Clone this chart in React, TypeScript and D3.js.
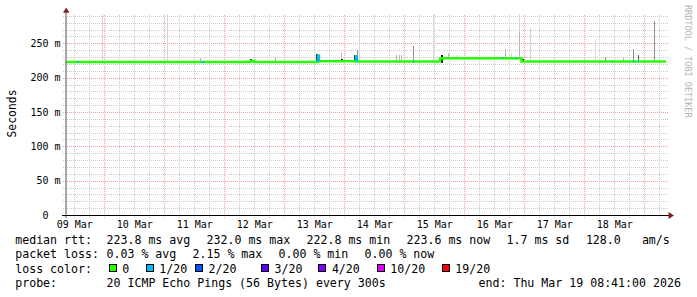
import React from "react";
import * as d3 from "d3";

// ---- time frame ----
const START = Date.UTC(2026, 2, 9, 8, 41, 0);
const SPAN_HOURS = 240;

// ---- median rtt (ms), step data: hour offset from start, value, lost pings of 20 ----
const medianHour = [0, 4.5, 5.1, 54.2, 55.3, 73.9, 75.2, 100.8, 101.2, 116.0, 116.4, 138.8, 139.3, 149.7, 174.3, 174.9, 179.9, 180.5, 182.2, 218.3, 218.7, 226.7, 227.3, 228.8, 229.2];
const medianMs = [222.8, 222.8, 222.8, 222.8, 222.8, 224.4, 222.8, 232.0, 224.0, 231.0, 223.5, 223.5, 223.5, 228.3, 228.3, 228.3, 228.3, 228.3, 223.6, 223.6, 223.6, 223.6, 223.6, 223.6, 223.6];
const medianLoss = [0, 1, 0, 1, 0, 0, 0, 1, 0, 1, 0, 1, 0, 0, 1, 0, 1, 0, 0, 1, 0, 1, 0, 1, 0];

// ---- smoke (ping spread above median): hour, top value (ms), shade level ----
const smokeHour = [14.2, 40.2, 53.6, 73.7, 83.6, 99.9, 110.0, 110.0, 115.2, 116.5, 117.0, 132.2, 133.1, 134.0, 138.9, 146.7, 149.8, 152.9, 156.4, 175.6, 177.8, 181.0, 181.3, 182.2, 185.6, 211.7, 215.7, 222.8, 226.9, 228.9, 235.3];
const smokeTop = [295, 295, 228.6, 226.5, 230.1, 234.5, 236.6, 226.5, 233.0, 240.7, 295, 232.3, 232.3, 232.3, 246.1, 295, 232.5, 236.6, 233.0, 241.3, 236.3, 295, 267.2, 227.0, 272.0, 254.8, 230.5, 228.6, 242.0, 233.0, 283.0];
const smokeShade = [0, 0, 1, 4, 1, 4, 1, 4, 4, 2, 0, 1, 1, 1, 2, 0, 4, 1, 1, 1, 0, 0, 1, 4, 0, 0, 2, 1, 2, 3, 2];

// ---- legend data ----
const rttStatValues = [223.8, 232.0, 222.8, 223.6];
const rttStatNames = ["avg", "max", "min", "now"];
const rttSd = 1.7;
const amPerSecond = 128.0;
const lossStatValues = [0.03, 2.15, 0.0, 0.0];
const lossStatNames = ["avg", "max", "min", "now"];
const lossLevels = [0, 1, 2, 3, 4, 10, 19];
const lossLabels = ["0", "1/20", "2/20", "3/20", "4/20", "10/20", "19/20"];
const lossColors = ["#26ff00", "#00b8ff", "#0059ff", "#5e00ff", "#7e00ff", "#dd00ff", "#ff0000"];
const probeText = "20 ICMP Echo Pings (56 Bytes) every 300s";
const endText = "end: Thu Mar 19 08:41:00 2026";

const yTicks = [0, 50, 100, 150, 200, 250];

// ---- style / layout ----
const FONT = "'DejaVu Sans Mono', monospace";
const smokeColors = ["#d6d6d6", "#b8b8b8", "#909090", "#606060", "#202020"];
const MINOR_GRID = "#cccccc";
const MAJOR_GRID = "#f0a0a0";
const ARROW = "#7f1f1f";
const row1X = [16, 107.3, 207.3, 307.3, 407.3, 507.3, 586.7, 642.7];
const row2X = [16, 107.3, 193.3, 279.3, 365.3];
const boxX = [108.7, 145.7, 195, 261, 318.3, 376.7, 441.7];
const row4X = [16, 107.3, 479.3];
const rowY = [244, 258.3, 272.6, 287];

function lossColor(l: number) {
  const i = lossLevels.indexOf(l);
  return lossColors[i >= 0 ? i : 0];
}

export default function App() {
  const t0 = new Date(START);
  const t1 = new Date(START + SPAN_HOURS * 3600e3);
  const x = d3.scaleUtc().domain([t0, t1]).range([66, 666]);
  const y = d3.scaleLinear().domain([0, 291.2]).range([215, 15]);
  const hx = (h: number) => x(new Date(START + h * 3600e3));
  const crisp = (v: number) => Math.round(v) + 0.5;

  const medianAt = (h: number) => {
    const i = d3.bisectRight(medianHour, h) - 1;
    return medianMs[Math.max(0, i)];
  };

  // grid
  const days = d3.utcDay.range(t0, t1);
  const sixHours = d3.utcHour.every(6)!.range(t0, t1).filter((d) => d.getUTCHours() !== 0);
  const noonLabels = d3.utcDay
    .range(d3.utcDay.floor(t0), t1)
    .map((d) => new Date(+d + 12 * 3600e3))
    .filter((d) => d >= t0 && d <= t1);
  const fmt = d3.utcFormat("%d %b");
  const minorH = d3.range(10, 291, 10).filter((v) => v % 50 !== 0);
  const majorH = yTicks.filter((v) => v > 0);

  // median line
  const pts: [number, number][] = medianHour.map((h, i) => [h, medianMs[i]]);
  pts.push([SPAN_HOURS, medianMs[medianMs.length - 1]]);
  const line = d3
    .line<[number, number]>()
    .x((d) => hx(d[0]))
    .y((d) => y(d[1]))
    .curve(d3.curveStepAfter);

  const lossPaths: { d: string; c: string }[] = [];
  medianHour.forEach((h, i) => {
    if (medianLoss[i] === 0) return;
    const prev = i > 0 ? medianMs[i - 1] : medianMs[i];
    const next = i < medianMs.length - 1 ? medianMs[i + 1] : medianMs[i];
    const hEnd = i < medianHour.length - 1 ? medianHour[i + 1] : SPAN_HOURS;
    const p = d3.path();
    p.moveTo(hx(h), y(prev));
    p.lineTo(hx(h), y(medianMs[i]));
    p.lineTo(hx(hEnd), y(medianMs[i]));
    p.lineTo(hx(hEnd), y(next));
    lossPaths.push({ d: p.toString(), c: lossColor(medianLoss[i]) });
  });

  const rttItems = [
    "median rtt:",
    ...rttStatValues.map((v, i) => `${v.toFixed(1)} ms ${rttStatNames[i]}`),
    `${rttSd.toFixed(1)} ms sd`,
    amPerSecond.toFixed(1),
    "am/s",
  ];
  const lossItems = ["packet loss:", ...lossStatValues.map((v, i) => `${v.toFixed(2)} % ${lossStatNames[i]}`)];
  const probeItems = ["probe:", probeText, endText];

  return (
    <svg
      width={697}
      height={297}
      viewBox="0 0 697 297"
      style={{ position: "fixed", left: 0, top: 0, display: "block", background: "#ffffff" }}
    >
      <defs>
        <clipPath id="plot">
          <rect x={66} y={14} width={601} height={201} />
        </clipPath>
      </defs>
      <rect x={0} y={0} width={697} height={297} fill="#ffffff" />

      {/* grid */}
      <g shapeRendering="crispEdges">
        {minorH.map((v) => (
          <line key={"mh" + v} x1={63} x2={668} y1={crisp(y(v))} y2={crisp(y(v))} stroke={MINOR_GRID} strokeDasharray="1 1" />
        ))}
        {sixHours.map((d) => (
          <line key={"mv" + +d} x1={crisp(x(d))} x2={crisp(x(d))} y1={15} y2={218} stroke={MINOR_GRID} strokeDasharray="1 1" />
        ))}
        {majorH.map((v) => (
          <line key={"Mh" + v} x1={63} x2={668} y1={crisp(y(v))} y2={crisp(y(v))} stroke={MAJOR_GRID} strokeDasharray="1 1" />
        ))}
        {days.map((d) => (
          <line key={"Mv" + +d} x1={crisp(x(d))} x2={crisp(x(d))} y1={15} y2={218} stroke={MAJOR_GRID} strokeDasharray="1 1" />
        ))}
      </g>

      {/* smoke */}
      <g clipPath="url(#plot)" shapeRendering="crispEdges">
        {smokeHour.map((h, i) => {
          const base = Math.min(medianAt(h - 0.4), medianAt(h)) - 1.5;
          const w = smokeShade[i] === 4 ? 2 : 1;
          return (
            <rect
              key={"s" + i}
              x={Math.round(hx(h))}
              width={w}
              y={y(smokeTop[i])}
              height={y(base) - y(smokeTop[i])}
              fill={smokeColors[smokeShade[i]]}
            />
          );
        })}
      </g>

      {/* median */}
      <path d={line(pts) || ""} fill="none" stroke={lossColors[0]} strokeWidth={2.5} />
      {lossPaths.map((p, i) => (
        <path key={"l" + i} d={p.d} fill="none" stroke={p.c} strokeWidth={2} strokeLinecap="butt" />
      ))}

      {/* axes */}
      <line x1={66} x2={66} y1={218} y2={12} stroke="#555" strokeWidth={1} />
      <line x1={62} x2={670} y1={215.5} y2={215.5} stroke="#000" strokeWidth={1.2} />
      <polygon points="63,12.7 69.5,12.7 66.2,7.5" fill={ARROW} />
      <polygon points="668.5,212 668.5,219 674,215.5" fill={ARROW} />

      {/* y tick labels */}
      {yTicks.map((v) => (
        <text
          key={"yt" + v}
          x={60.5}
          y={y(v) + 3.6}
          textAnchor="end"
          fontFamily={FONT}
          fontSize={10}
          fill="#000"
          style={{ whiteSpace: "pre" }}
        >
          {v === 0 ? "0  " : `${v} m`}
        </text>
      ))}

      {/* x tick labels */}
      {noonLabels.map((d) => (
        <text key={"xt" + +d} x={x(d) + 0.5} y={227.6} textAnchor="middle" fontFamily={FONT} fontSize={10} fill="#000">
          {fmt(d)}
        </text>
      ))}

      {/* axis title */}
      <text transform="translate(15.5,113.5) rotate(-90)" textAnchor="middle" fontFamily={FONT} fontSize={11.4} fill="#000">
        Seconds
      </text>

      {/* watermark */}
      <text transform="translate(685,5) rotate(90)" fontFamily={FONT} fontSize={8.5} fill="#b4b4b4">
        RRDTOOL / TOBI OETIKER
      </text>

      {/* legend */}
      <g fontFamily={FONT} fontSize={11.6} fill="#000" style={{ whiteSpace: "pre" }}>
        {rttItems.map((s, i) => (
          <text key={"r1" + i} x={row1X[i] - 0.8} y={rowY[0]}>
            {s}
          </text>
        ))}
        {lossItems.map((s, i) => (
          <text key={"r2" + i} x={row2X[i] - 0.8} y={rowY[1]}>
            {s}
          </text>
        ))}
        <text x={row1X[0] - 0.8} y={rowY[2]}>
          loss color:
        </text>
        {lossLevels.map((l, i) => (
          <g key={"b" + l}>
            <rect x={boxX[i] + 0.5} y={264.5} width={7} height={7} fill={lossColors[i]} stroke="#000" strokeWidth={1} shapeRendering="crispEdges" />
            <text x={boxX[i] + 13.6} y={rowY[2]}>
              {lossLabels[i]}
            </text>
          </g>
        ))}
        {probeItems.map((s, i) => (
          <text key={"r4" + i} x={row4X[i] - 0.8} y={rowY[3]}>
            {s}
          </text>
        ))}
      </g>
    </svg>
  );
}
